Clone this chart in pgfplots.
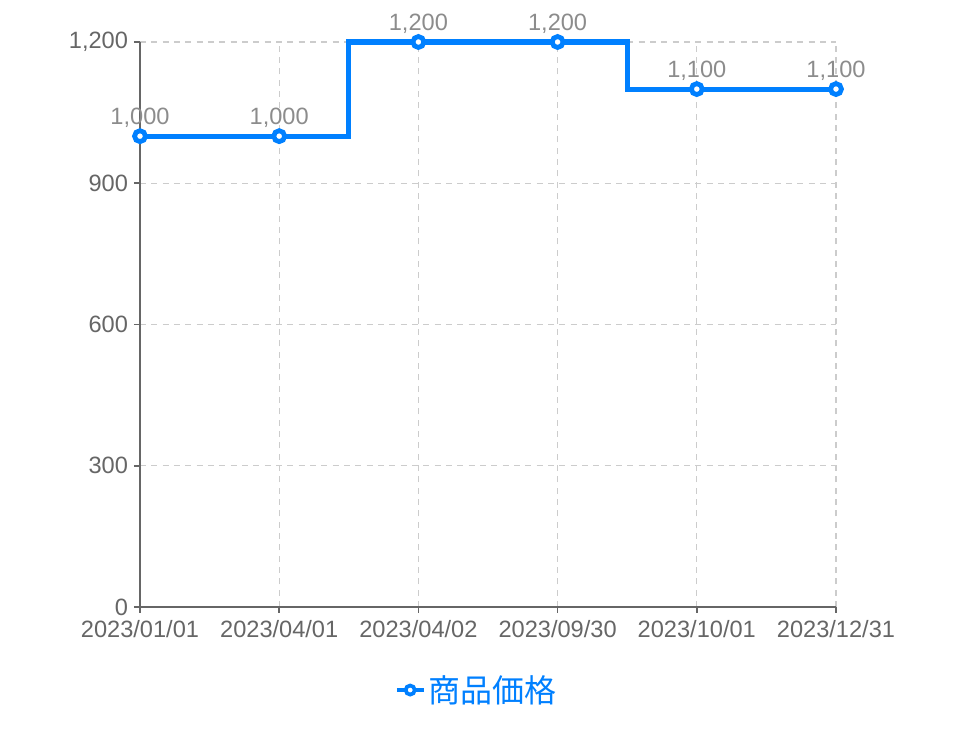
\documentclass[border=0pt]{standalone}
\usepackage{pgfplots}
\pgfplotsset{compat=1.18}
\usepackage{fontspec}
\setmainfont{Liberation Sans}
\newfontfamily\cjk{Noto Sans CJK JP}
\definecolor{lineblue}{HTML}{0080FF}
\definecolor{axisgray}{HTML}{666666}
\definecolor{labelgray}{HTML}{8C8C8C}
\definecolor{gridgray}{HTML}{CCCCCC}

\begin{document}
\begin{tikzpicture}[x=0.75pt, y=0.75pt]
\path (0,0) rectangle (976,736);
\begin{axis}[
    at={(140*0.75pt,129*0.75pt)}, anchor=south west,
    scale only axis,
    width=522pt, height=423.75pt,
    xmin=0, xmax=5, ymin=0, ymax=1200,
    clip=false,
    axis lines*=left,
    axis line style={axisgray, line width=1.3pt},
    xtick={0,...,5},
    xticklabels={2023/01/01,2023/04/01,2023/04/02,2023/09/30,2023/10/01,2023/12/31},
    ytick={0,300,600,900,1200},
    tick align=outside,
    major tick length=4.5pt,
    tick style={axisgray, line width=1.3pt},
    grid=major,
    major grid style={gridgray, dash pattern=on 4.5pt off 4pt, line width=0.9pt},
    ticklabel style={font=\fontsize{17.7}{20}\selectfont, text=axisgray},
    xticklabel style={yshift=-2pt},
    yticklabel style={xshift=-1pt},
    /pgf/number format/assume math mode=true,
    /pgf/number format/.cd, fixed, precision=0, 1000 sep={,},
    /pgfplots/.cd,
    legend style={at={(0.484,-0.147)}, anchor=center, draw=none,
        font=\cjk\fontsize{24}{28}\selectfont, text=lineblue, inner sep=0pt},
    legend image code/.code={
        \draw[lineblue, line width=3pt] (0pt,0pt) -- (20pt,0pt);
        \draw[lineblue, fill=white, line width=2.8pt] (10pt,0pt) circle (3.4pt);
    },
]
\addplot[
    const plot mark mid,
    lineblue, line width=3.8pt,
    mark=*, mark size=4.1pt,
    mark options={fill=white, draw=lineblue, line width=3.6pt},
    nodes near coords,
    every node near coord/.append style={font=\fontsize{17.7}{20}\selectfont,
        text=labelgray, anchor=south, inner sep=0pt, yshift=4.5pt},
] coordinates {
    (0,1000) (1,1000) (2,1200) (3,1200) (4,1100) (5,1100)
};
\addlegendentry{商品価格}
\end{axis}
\end{tikzpicture}
\end{document}
